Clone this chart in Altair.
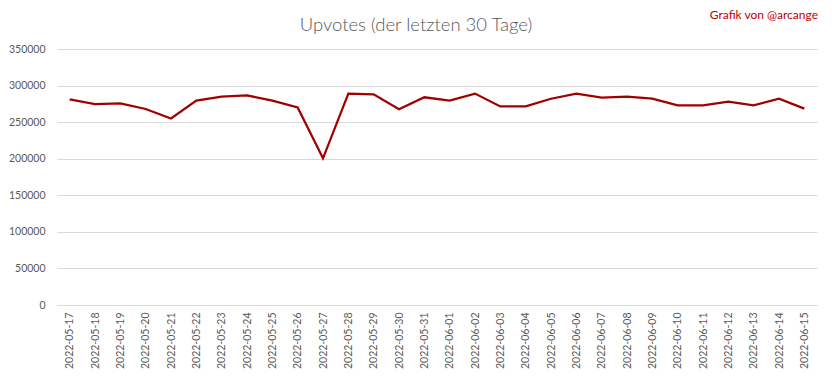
import altair as alt
import pandas as pd

dates = [
    "2022-05-17", "2022-05-18", "2022-05-19", "2022-05-20", "2022-05-21",
    "2022-05-22", "2022-05-23", "2022-05-24", "2022-05-25", "2022-05-26",
    "2022-05-27", "2022-05-28", "2022-05-29", "2022-05-30", "2022-05-31",
    "2022-06-01", "2022-06-02", "2022-06-03", "2022-06-04", "2022-06-05",
    "2022-06-06", "2022-06-07", "2022-06-08", "2022-06-09", "2022-06-10",
    "2022-06-11", "2022-06-12", "2022-06-13", "2022-06-14", "2022-06-15",
]
upvotes = [
    281000, 274500, 275500, 268000, 255000,
    279500, 285000, 286500, 279500, 270000,
    200500, 289000, 288000, 267500, 284000,
    279500, 289000, 271500, 271500, 282000,
    289000, 283500, 285000, 282000, 273000,
    273000, 278000, 273000, 282000, 268500,
]
y_ticks = [0, 50000, 100000, 150000, 200000, 250000, 300000, 350000]
title_text = "Upvotes (der letzten 30 Tage)"
credit_text = "Grafik von @arcange"

df = pd.DataFrame({"date": dates, "upvotes": upvotes})

FONT = "Lato"
GRAY = "#595959"

line = alt.Chart(df).mark_line(color="#A00000", strokeWidth=2.25).encode(
    x=alt.X(
        "date:O",
        sort=dates,
        title=None,
        scale=alt.Scale(type="point", padding=0.5),
        axis=alt.Axis(
            labelAngle=270,
            ticks=False,
            domain=True,
            domainColor="#d9d9d9",
            labelPadding=7,
            labelFont=FONT,
            labelFontSize=10.5,
            labelColor=GRAY,
        ),
    ),
    y=alt.Y(
        "upvotes:Q",
        title=None,
        scale=alt.Scale(domain=[0, 350000], nice=False),
        axis=alt.Axis(
            values=y_ticks,
            format="d",
            domain=False,
            ticks=False,
            labelPadding=12,
            gridColor="#d9d9d9",
            labelFont=FONT,
            labelFontSize=10.5,
            labelColor=GRAY,
        ),
    ),
)

title = alt.Chart(pd.DataFrame({"t": [title_text]})).mark_text(
    align="center", baseline="alphabetic", font=FONT, fontSize=18.5,
    fontWeight=300, color=GRAY
).encode(text="t:N", x=alt.value(359), y=alt.value(-18))

credit = alt.Chart(pd.DataFrame({"t": [credit_text]})).mark_text(
    align="right", baseline="middle", font=FONT, fontSize=12, color="#C00000"
).encode(text="t:N", x=alt.value(761), y=alt.value(-34))

chart = (
    alt.layer(line, title, credit)
    .properties(
        width=760,
        height=256,
        autosize=alt.AutoSizeParams(type="none"),
        padding={"left": 49, "top": 41, "right": 7, "bottom": 66},
        background="white",
    )
    .configure_view(stroke=None)
)

chart.save("out.html", embed_options={"renderer": "svg", "actions": False})
